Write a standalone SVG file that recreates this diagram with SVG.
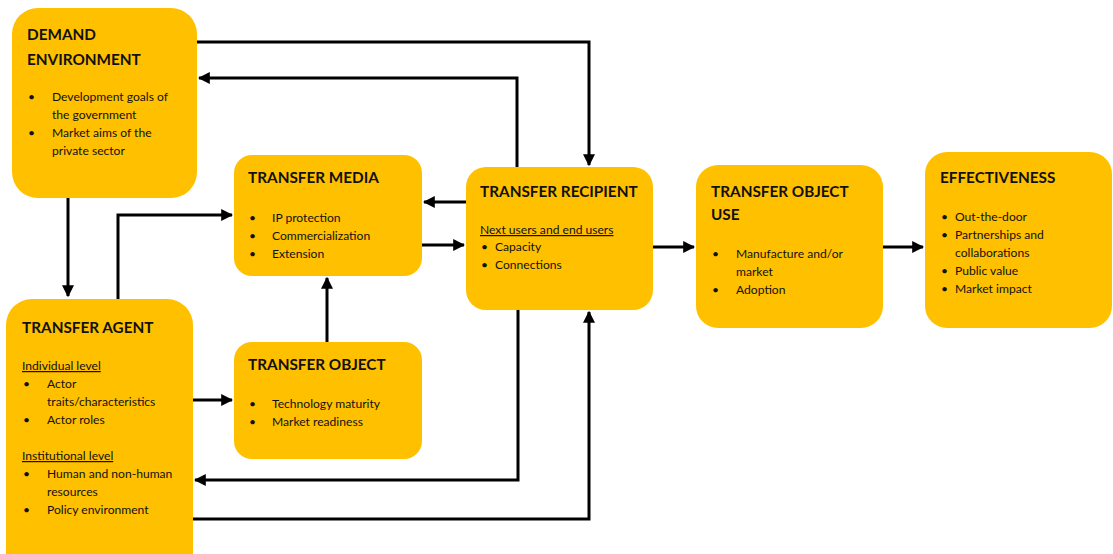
<svg xmlns="http://www.w3.org/2000/svg" width="1113" height="554" viewBox="0 0 1113 554">
<defs>
<style>
.box{fill:#FFC000;}
.t{font-family:Lato,"Open Sans","Liberation Sans",sans-serif;font-weight:bold;font-size:15.3px;fill:#111;}
.b{font-family:Lato,"Open Sans","Liberation Sans",sans-serif;font-size:12.1px;fill:#111;}
.u{text-decoration:underline;}
.c{fill:none;stroke:#000;stroke-width:3;}
</style>
<marker id="ah" viewBox="0 0 10 10" refX="9" refY="5" markerWidth="4" markerHeight="4" orient="auto" markerUnits="strokeWidth">
<path d="M0,0 L10,5 L0,10 Z" fill="#000"/>
</marker>
</defs>
<rect width="1113" height="554" fill="#fff"/>

<g id="connectors">
<path class="c" d="M197,42 H589 V165" marker-end="url(#ah)"/>
<path class="c" d="M517,167 V78 H199" marker-end="url(#ah)"/>
<path class="c" d="M68,198 V296" marker-end="url(#ah)"/>
<path class="c" d="M118,299 V215 H232" marker-end="url(#ah)"/>
<path class="c" d="M466,202 H424" marker-end="url(#ah)"/>
<path class="c" d="M422,245 H464" marker-end="url(#ah)"/>
<path class="c" d="M327,342 V278" marker-end="url(#ah)"/>
<path class="c" d="M193,400 H232" marker-end="url(#ah)"/>
<path class="c" d="M518,310 V480 H195" marker-end="url(#ah)"/>
<path class="c" d="M193,519 H589 V312" marker-end="url(#ah)"/>
<path class="c" d="M653,247 H694" marker-end="url(#ah)"/>
<path class="c" d="M883,247 H923" marker-end="url(#ah)"/>
</g>

<g id="demand-environment">
<rect class="box" x="12" y="8" width="185" height="190" rx="26"/>
<text class="t" x="27" y="40">DEMAND</text>
<text class="t" x="27" y="65">ENVIRONMENT</text>
<text class="b"><tspan x="28" y="101">•</tspan><tspan x="52" y="101">Development goals of</tspan><tspan x="52" y="119">the government</tspan><tspan x="28" y="137">•</tspan><tspan x="52" y="137">Market aims of the</tspan><tspan x="52" y="155">private sector</tspan></text>
</g>

<g id="transfer-agent">
<rect class="box" x="6" y="299" width="187" height="280" rx="26"/>
<text class="t" x="22" y="333">TRANSFER AGENT</text>
<text class="b"><tspan class="u" x="22" y="370">Individual level</tspan><tspan x="23" y="388">•</tspan><tspan x="47" y="388">Actor</tspan><tspan x="47" y="406">traits/characteristics</tspan><tspan x="23" y="424">•</tspan><tspan x="47" y="424">Actor roles</tspan><tspan class="u" x="22" y="460">Institutional level</tspan><tspan x="23" y="478">•</tspan><tspan x="47" y="478">Human and non-human</tspan><tspan x="47" y="496">resources</tspan><tspan x="23" y="514">•</tspan><tspan x="47" y="514">Policy environment</tspan></text>
</g>

<g id="transfer-media">
<rect class="box" x="234" y="155" width="188" height="121" rx="18"/>
<text class="t" x="248" y="183">TRANSFER MEDIA</text>
<text class="b"><tspan x="249" y="222">•</tspan><tspan x="272" y="222">IP protection</tspan><tspan x="249" y="240">•</tspan><tspan x="272" y="240">Commercialization</tspan><tspan x="249" y="258">•</tspan><tspan x="272" y="258">Extension</tspan></text>
</g>

<g id="transfer-object">
<rect class="box" x="234" y="342" width="188" height="117" rx="18"/>
<text class="t" x="248" y="370">TRANSFER OBJECT</text>
<text class="b"><tspan x="249" y="408">•</tspan><tspan x="272" y="408">Technology maturity</tspan><tspan x="249" y="426">•</tspan><tspan x="272" y="426">Market readiness</tspan></text>
</g>

<g id="transfer-recipient">
<rect class="box" x="466" y="167" width="187" height="143" rx="20"/>
<text class="t" x="480" y="197">TRANSFER RECIPIENT</text>
<text class="b"><tspan class="u" x="480" y="234">Next users and end users</tspan><tspan x="481" y="251">•</tspan><tspan x="495" y="251">Capacity</tspan><tspan x="481" y="269">•</tspan><tspan x="495" y="269">Connections</tspan></text>
</g>

<g id="transfer-object-use">
<rect class="box" x="696" y="165" width="187" height="163" rx="22"/>
<text class="t" x="711" y="197">TRANSFER OBJECT</text>
<text class="t" x="711" y="220">USE</text>
<text class="b"><tspan x="712" y="258">•</tspan><tspan x="736" y="258">Manufacture and/or</tspan><tspan x="736" y="276">market</tspan><tspan x="712" y="294">•</tspan><tspan x="736" y="294">Adoption</tspan></text>
</g>

<g id="effectiveness">
<rect class="box" x="925" y="152" width="187" height="176" rx="22"/>
<text class="t" x="940" y="183">EFFECTIVENESS</text>
<text class="b"><tspan x="941" y="221">•</tspan><tspan x="955" y="221">Out-the-door</tspan><tspan x="941" y="239">•</tspan><tspan x="955" y="239">Partnerships and</tspan><tspan x="955" y="257">collaborations</tspan><tspan x="941" y="275">•</tspan><tspan x="955" y="275">Public value</tspan><tspan x="941" y="293">•</tspan><tspan x="955" y="293">Market impact</tspan></text>
</g>
</svg>
